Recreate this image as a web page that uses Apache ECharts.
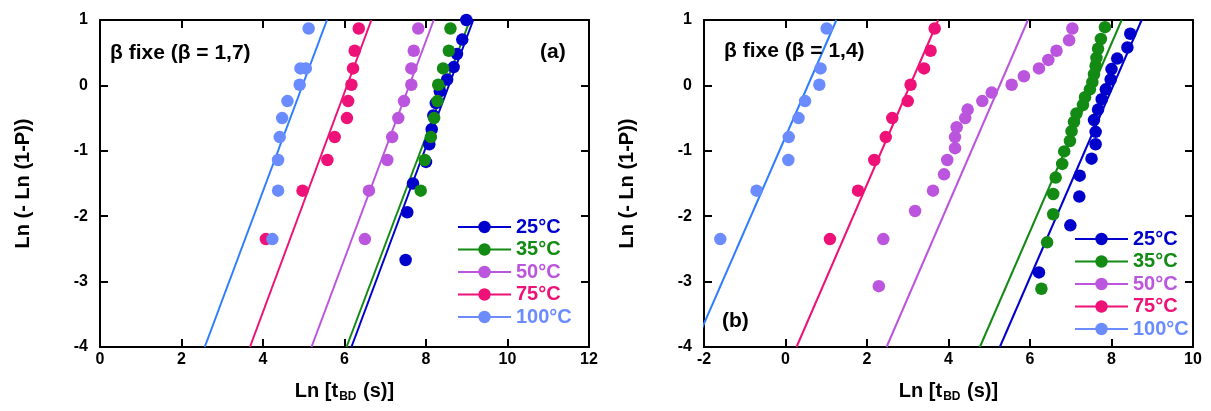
<!DOCTYPE html>
<html>
<head>
<meta charset="utf-8">
<script src="https://cdn.jsdelivr.net/npm/echarts@6/dist/echarts.min.js"></script>
<style>
html,body{margin:0;padding:0;background:#fff;}
#chart{width:1211px;height:411px;}
</style>
</head>
<body>
<div id="chart"></div>
<script>
// ---------- DATA ----------
const tempNames = ['25°C', '35°C', '50°C', '75°C', '100°C'];
const xTicksA = [0, 2, 4, 6, 8, 10, 12];
const xTicksB = [-2, 0, 2, 4, 6, 8, 10];
const yTicks = [-4, -3, -2, -1, 0, 1];

// Panel (a): beta fixed = 1.7
const a25x = [7.50, 7.54, 7.68, 8.00, 8.08, 8.14, 8.18, 8.24, 8.34, 8.52, 8.68, 8.76, 8.89, 8.99];
const a25y = [-2.67, -1.94, -1.50, -1.17, -0.90, -0.67, -0.46, -0.27, -0.09, 0.09, 0.28, 0.48, 0.70, 1.00];
const a35x = [7.87, 7.97, 8.12, 8.20, 8.28, 8.30, 8.42, 8.56, 8.60];
const a35y = [-1.61, -1.14, -0.79, -0.50, -0.24, 0.01, 0.26, 0.53, 0.87];
const a50x = [6.50, 6.60, 7.05, 7.17, 7.32, 7.46, 7.64, 7.64, 7.70, 7.81];
const a50y = [-2.35, -1.61, -1.14, -0.79, -0.50, -0.24, 0.01, 0.26, 0.53, 0.87];
const a75x = [4.07, 4.97, 5.58, 5.76, 6.06, 6.09, 6.17, 6.21, 6.25, 6.35];
const a75y = [-2.35, -1.61, -1.14, -0.79, -0.50, -0.24, 0.01, 0.26, 0.53, 0.87];
const a100x = [4.23, 4.37, 4.37, 4.41, 4.47, 4.60, 4.90, 4.92, 5.05, 5.12];
const a100y = [-2.35, -1.61, -1.14, -0.79, -0.50, -0.24, 0.01, 0.26, 0.26, 0.87];
const fitA25 = [[6.17, -4], [9.16, 1]];
const fitA35 = [[6.05, -4], [9.08, 1]];
const fitA50 = [[5.19, -4], [8.19, 1]];
const fitA75 = [[3.68, -4], [6.66, 1]];
const fitA100 = [[2.57, -4], [5.57, 1]];

// Panel (b): beta fixed = 1.4
const b25x = [6.22, 6.99, 7.21, 7.22, 7.51, 7.61, 7.61, 7.57, 7.67, 7.76, 7.86, 7.98, 8.00, 8.14, 8.39, 8.46];
const b25y = [-2.86, -2.14, -1.70, -1.38, -1.12, -0.90, -0.71, -0.53, -0.37, -0.21, -0.06, 0.09, 0.25, 0.41, 0.58, 0.79];
const b35x = [6.28, 6.42, 6.57, 6.57, 6.63, 6.79, 6.84, 6.98, 7.02, 7.08, 7.14, 7.30, 7.35, 7.47, 7.53, 7.57, 7.61, 7.63, 7.67, 7.74, 7.84];
const b35y = [-3.11, -2.40, -1.97, -1.66, -1.41, -1.20, -1.01, -0.85, -0.70, -0.56, -0.43, -0.30, -0.18, -0.06, 0.05, 0.17, 0.30, 0.42, 0.56, 0.71, 0.89];
const b50x = [2.29, 2.40, 3.18, 3.62, 3.89, 3.97, 4.16, 4.16, 4.20, 4.41, 4.47, 4.83, 5.06, 5.55, 5.85, 6.22, 6.45, 6.65, 6.96, 7.04];
const b50y = [-3.07, -2.35, -1.92, -1.61, -1.36, -1.14, -0.96, -0.79, -0.64, -0.50, -0.37, -0.24, -0.11, 0.01, 0.14, 0.26, 0.39, 0.53, 0.69, 0.87];
const b75x = [1.09, 1.78, 2.18, 2.46, 2.62, 3.00, 3.07, 3.40, 3.56, 3.66];
const b75y = [-2.35, -1.61, -1.14, -0.79, -0.50, -0.24, 0.01, 0.26, 0.53, 0.87];
const b100x = [-1.60, -0.71, 0.07, 0.08, 0.32, 0.48, 0.83, 0.86, 1.01];
const b100y = [-2.35, -1.61, -1.14, -0.79, -0.50, -0.24, 0.01, 0.26, 0.87];
const fitB25 = [[5.26, -4], [8.74, 1]];
const fitB35 = [[4.77, -4], [8.25, 1]];
const fitB50 = [[2.48, -4], [5.95, 1]];
const fitB75 = [[0.27, -4], [3.75, 1]];
const fitB100 = [[-2.25, -4], [1.25, 1]];

// ---------- STYLE ----------
const colors = ['#0000cc', '#138a13', '#bb55dd', '#ee1177', '#6a8cff'];
const fitColors = ['#0000cc', '#138a13', '#bb55dd', '#ee1177', '#2f7dff'];
const FONT = 'Liberation Sans';

function pairs(xs, ys) { return xs.map((x, i) => [x, ys[i]]); }

const ptsA = [pairs(a25x, a25y), pairs(a35x, a35y), pairs(a50x, a50y), pairs(a75x, a75y), pairs(a100x, a100y)];
const ptsB = [pairs(b25x, b25y), pairs(b35x, b35y), pairs(b50x, b50y), pairs(b75x, b75y), pairs(b100x, b100y)];
const fitsA = [fitA25, fitA35, fitA50, fitA75, fitA100];
const fitsB = [fitB25, fitB35, fitB50, fitB75, fitB100];

const series = [];
function addPanel(pts, fits, xi, yi, tag) {
  fits.forEach((f, k) => series.push({
    name: 'fit ' + tag + ' ' + tempNames[k], type: 'line', xAxisIndex: xi, yAxisIndex: yi,
    data: f, showSymbol: false, symbol: 'none', clip: true, silent: true,
    lineStyle: { color: fitColors[k], width: 2 }, z: 2
  }));
  pts.forEach((p, k) => series.push({
    name: tempNames[k], type: 'line', xAxisIndex: xi, yAxisIndex: yi,
    data: p, symbol: 'circle', symbolSize: 12.5, showSymbol: true, clip: false, silent: true,
    color: colors[k], itemStyle: { color: colors[k] },
    lineStyle: { width: 0, color: colors[k] }, z: 3
  }));
}
addPanel(ptsA, fitsA, 0, 0, 'a');
addPanel(ptsB, fitsB, 2, 2, 'b');

const axLine = { show: true, onZero: false, lineStyle: { color: '#000', width: 2 } };
const axTick = { show: true, inside: true, length: 8, lineStyle: { color: '#000', width: 2 } };
const lblStyle = { color: '#000', fontFamily: FONT, fontWeight: 'bold', fontSize: 16 };

function xAx(grid, pos, min, max, labels) {
  return {
    type: 'value', gridIndex: grid, position: pos, min: min, max: max, interval: 2,
    axisLine: axLine, axisTick: axTick, splitLine: { show: false },
    axisLabel: labels ? Object.assign({ margin: 5 }, lblStyle) : { show: false },
    name: labels ? '{m|Ln [t}{s|BD}{m| (s)]}' : '',
    nameLocation: 'middle', nameGap: 34,
    nameTextStyle: {
      rich: {
        m: { fontFamily: FONT, fontWeight: 'bold', fontSize: 20, color: '#000', lineHeight: 22, verticalAlign: 'top' },
        s: { fontFamily: FONT, fontWeight: 'bold', fontSize: 12, color: '#000', lineHeight: 14, verticalAlign: 'bottom', padding: [18, 1, 0, 1] }
      }
    }
  };
}
function yAx(grid, pos, labels) {
  return {
    type: 'value', gridIndex: grid, position: pos, min: -4, max: 1, interval: 1,
    axisLine: axLine, axisTick: axTick, splitLine: { show: false },
    axisLabel: labels ? Object.assign({ margin: 12 }, lblStyle) : { show: false },
    name: labels ? 'Ln (- Ln (1-P))' : '',
    nameLocation: 'middle', nameRotate: 90, nameGap: 67,
    nameTextStyle: { fontFamily: FONT, fontWeight: 'bold', fontSize: 20, color: '#000' }
  };
}

function legendData() {
  return tempNames.map((n, k) => ({ name: n, textStyle: { color: colors[k] } }));
}
function legend(left, top) {
  return {
    data: legendData(), orient: 'vertical', left: left, top: top, padding: 0,
    itemWidth: 53, itemHeight: 15.5, itemGap: 2.5, selectedMode: false,
    lineStyle: { width: 2 },
    textStyle: { fontFamily: FONT, fontWeight: 'bold', fontSize: 20, lineHeight: 20 }
  };
}
function txt(text, left, top) {
  return { text: text, left: left, top: top, padding: 0,
    textStyle: { fontFamily: FONT, fontWeight: 'bold', fontSize: 21, color: '#000' } };
}

const option = {
  animation: false,
  backgroundColor: '#fff',
  title: [
    txt('β fixe (β = 1,7)', 110, 43),
    txt('(a)', 540, 42),
    txt('β fixe (β = 1,4)', 724, 41),
    txt('(b)', 722, 311)
  ],
  legend: [legend(457, 217), legend(1074, 229)],
  grid: [
    { left: 100, top: 20, width: 489, height: 327 },
    { left: 704, top: 20, width: 489, height: 327 }
  ],
  xAxis: [
    xAx(0, 'bottom', xTicksA[0], xTicksA[xTicksA.length - 1], true),
    xAx(0, 'top', xTicksA[0], xTicksA[xTicksA.length - 1], false),
    xAx(1, 'bottom', xTicksB[0], xTicksB[xTicksB.length - 1], true),
    xAx(1, 'top', xTicksB[0], xTicksB[xTicksB.length - 1], false)
  ],
  yAxis: [
    yAx(0, 'left', true),
    yAx(0, 'right', false),
    yAx(1, 'left', true),
    yAx(1, 'right', false)
  ],
  series: series
};

const chart = echarts.init(document.getElementById('chart'), null, { renderer: 'canvas' });
chart.setOption(option);
</script>
</body>
</html>
